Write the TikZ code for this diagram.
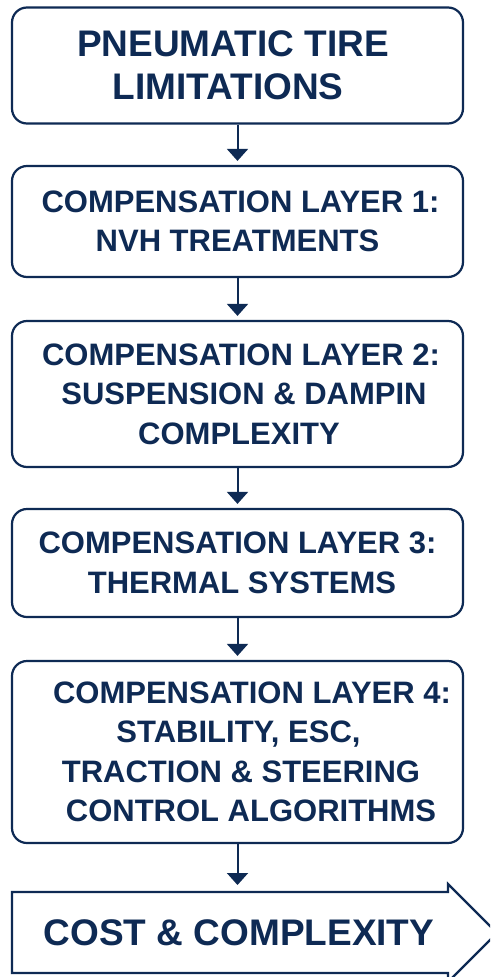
\documentclass[tikz,border=0pt]{standalone}
\usepackage{fontspec}
\setmainfont{Liberation Sans}
\usetikzlibrary{arrows.meta}
\definecolor{navy}{HTML}{0E2A54}
\tikzset{
  layerbox/.style={draw=navy, line width=2.2pt, rounded corners=15pt, fill=white,
    minimum width=451pt, inner sep=0pt, align=center, text=navy,
    font=\bfseries\fontsize{31}{39.5}\selectfont},
  link/.style={draw=navy, line width=2pt, -{Triangle[width=21pt,length=12pt]}, shorten >=4pt},
  outline/.style={draw=navy, line width=2.2pt, line join=miter, fill=white}
}
\begin{document}
\begin{tikzpicture}[x=1pt,y=-1pt]
\useasboundingbox[fill=white] (0,0) rectangle (490,977);
\clip (0,0) rectangle (490,977);

% stacked layers
\node[layerbox, minimum height=116pt, font=\bfseries\fontsize{37}{43}\selectfont]
  (b1) at (237.5,65.5) {\hspace*{-9pt}PNEUMATIC TIRE\\\hspace*{-19pt}LIMITATIONS};
\node[layerbox, minimum height=111pt] (b2) at (237.5,221.5)
  {\hspace*{6pt}COMPENSATION LAYER 1:\\NVH TREATMENTS};
\node[layerbox, minimum height=146pt] (b3) at (237.5,394)
  {\hspace*{7pt}COMPENSATION LAYER 2:\\\hspace*{13pt}SUSPENSION \& DAMPIN\\\hspace*{3pt}COMPLEXITY};
\node[layerbox, minimum height=108pt] (b4) at (237.5,563)
  {COMPENSATION LAYER 3:\\\hspace*{9pt}THERMAL SYSTEMS};
\node[layerbox, minimum height=182pt] (b5) at (237.5,752)
  {\hspace*{29pt}COMPENSATION LAYER 4:\\\hspace*{2pt}STABILITY, ESC,\\\hspace*{7pt}TRACTION \& STEERING\\\hspace*{27pt}CONTROL ALGORITHMS};

% final outcome arrow
\draw[outline] (12,892) -- (448,892) -- (448,884) -- (497,933) -- (448,982)
  -- (448,973) -- (12,973) -- cycle;
\coordinate (costtop) at (237.5,892);
\node[text=navy, font=\bfseries\fontsize{37}{43}\selectfont, inner sep=0pt]
  (cost) at (239,933) {COST \& COMPLEXITY};

% connectors
\draw[link] (b1.south) -- (b2.north);
\draw[link] (b2.south) -- (b3.north);
\draw[link] (b3.south) -- (b4.north);
\draw[link] (b4.south) -- (b5.north);
\draw[link, shorten >=7pt] (b5.south) -- (costtop);
\end{tikzpicture}
\end{document}
